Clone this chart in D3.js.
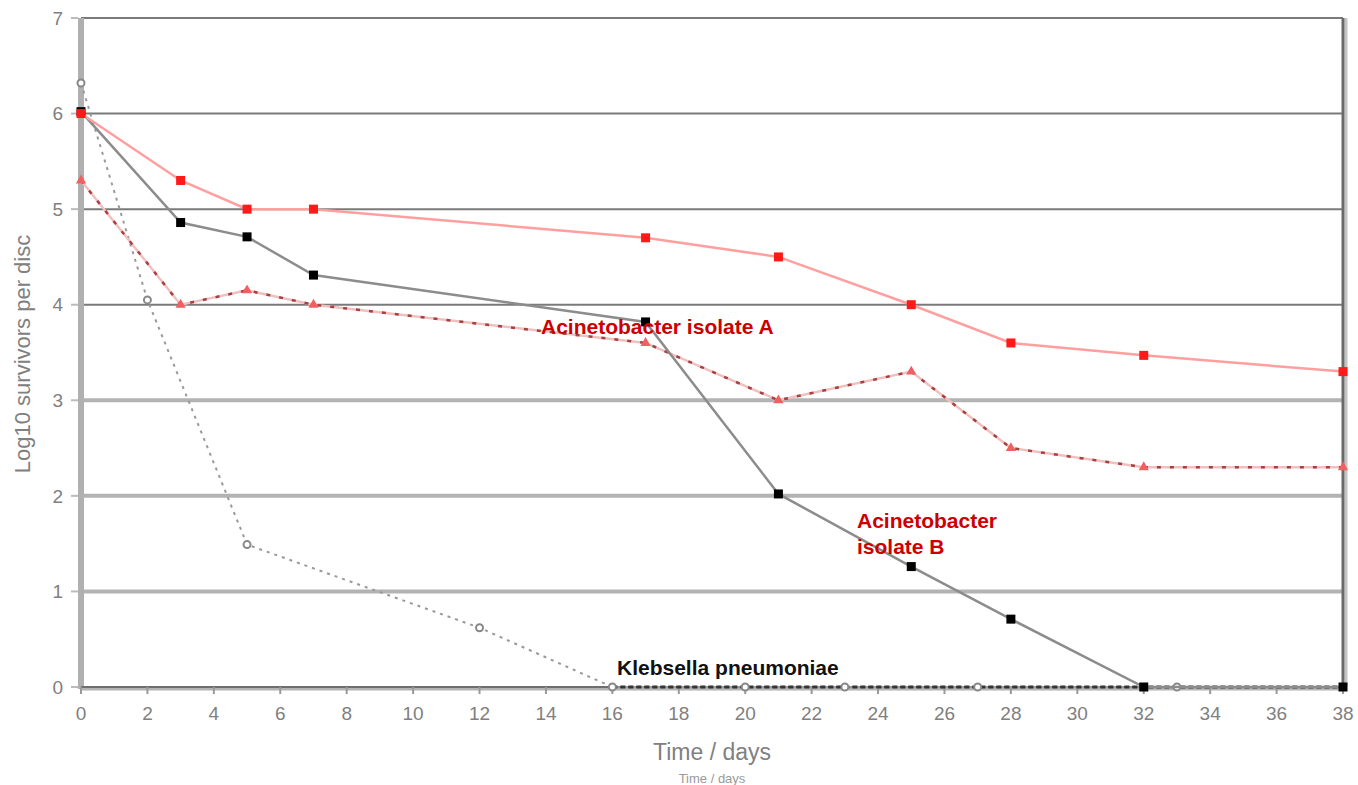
<!DOCTYPE html>
<html>
<head>
<meta charset="utf-8">
<script src="https://cdn.jsdelivr.net/npm/d3@7"></script>
<style>
  body { margin: 0; background: #fff; }
  svg { display: block; }
  text { font-family: "Liberation Sans", Arial, sans-serif; }
  .narrow { font-family: "Liberation Sans Narrow", "Liberation Sans", Arial, sans-serif; }
</style>
</head>
<body>
<svg id="chart" width="1358" height="785"></svg>
<script>
// data
var xTicks = [0, 2, 4, 6, 8, 10, 12, 14, 16, 18, 20, 22, 24, 26, 28, 30, 32, 34, 36, 38];
var yTicks = [0, 1, 2, 3, 4, 5, 6, 7];

var redSolidDays = [0, 3, 5, 7, 17, 21, 25, 28, 32, 38];
var redSolidVals = [6.0, 5.3, 5.0, 5.0, 4.7, 4.5, 4.0, 3.6, 3.47, 3.3];

var redDashDays = [0, 3, 5, 7, 17, 21, 25, 28, 32, 38];
var redDashVals = [5.3, 4.0, 4.15, 4.0, 3.6, 3.0, 3.3, 2.5, 2.3, 2.3];

var blackDays = [0, 3, 5, 7, 17, 21, 25, 28, 32, 38];
var blackVals = [6.02, 4.86, 4.71, 4.31, 3.82, 2.02, 1.26, 0.71, 0, 0];

var klebDays = [0, 2, 5, 12, 16, 20, 23, 27, 33, 38];
var klebVals = [6.32, 4.05, 1.49, 0.62, 0, 0, 0, 0, 0, 0];

var margin = {top: 18, right: 15, bottom: 98, left: 81};

var svg = d3.select("#chart");
var g = svg.append("g").attr("transform", "translate(" + margin.left + "," + margin.top + ")");

var x = d3.scaleLinear().domain([0, 38]).range([0, 1262]);
var y = d3.scaleLinear().domain([0, 7]).range([669, 0]);

// grid lines
g.selectAll(".grid")
  .data(yTicks.filter(function(d){ return d > 0; }))
  .enter().append("line")
  .attr("class", "grid")
  .attr("x1", 0).attr("x2", x(38))
  .attr("y1", function(d){ return y(d); })
  .attr("y2", function(d){ return y(d); })
  .attr("stroke", function(d){ return d >= 4 ? "#7a7a7a" : "#b3b3b3"; })
  .attr("stroke-width", function(d){ return d >= 4 ? 2 : 4; });

// right border
g.append("line")
  .attr("x1", x(38) + 3).attr("x2", x(38) + 3)
  .attr("y1", y(7)).attr("y2", y(0))
  .attr("stroke", "#c4c4c4").attr("stroke-width", 3);
g.append("line")
  .attr("x1", x(38)).attr("x2", x(38))
  .attr("y1", y(7)).attr("y2", y(0))
  .attr("stroke", "#6a6a6a").attr("stroke-width", 3);

// left axis bar
g.append("line")
  .attr("x1", 0).attr("x2", 0)
  .attr("y1", y(7)).attr("y2", y(0) + 2)
  .attr("stroke", "#b0b0b0").attr("stroke-width", 6);

// bottom axis
g.append("line")
  .attr("x1", 0).attr("x2", x(38))
  .attr("y1", y(0) + 2).attr("y2", y(0) + 2)
  .attr("stroke", "#b3b3b3").attr("stroke-width", 3);
g.append("line")
  .attr("x1", 0).attr("x2", x(38))
  .attr("y1", y(0)).attr("y2", y(0))
  .attr("stroke", "#6e6e6e").attr("stroke-width", 2);

// y ticks + labels
g.selectAll(".ytick")
  .data(yTicks)
  .enter().append("line")
  .attr("x1", -10).attr("x2", -3)
  .attr("y1", function(d){ return y(d); })
  .attr("y2", function(d){ return y(d); })
  .attr("stroke", "#bbb").attr("stroke-width", 2);

g.selectAll(".ylab")
  .data(yTicks)
  .enter().append("text")
  .attr("class", "narrow")
  .attr("x", -18)
  .attr("y", function(d){ return y(d); })
  .attr("dy", "0.35em")
  .attr("text-anchor", "end")
  .attr("fill", "#808080")
  .style("font-size", "19px")
  .text(function(d){ return d; });

// x ticks + labels
g.selectAll(".xtick")
  .data(xTicks)
  .enter().append("line")
  .attr("x1", function(d){ return x(d); })
  .attr("x2", function(d){ return x(d); })
  .attr("y1", y(0)).attr("y2", y(0) + 7)
  .attr("stroke", "#999").attr("stroke-width", 2);

g.selectAll(".xlab")
  .data(xTicks)
  .enter().append("text")
  .attr("class", "narrow")
  .attr("x", function(d){ return x(d); })
  .attr("y", y(0) + 33)
  .attr("text-anchor", "middle")
  .attr("fill", "#808080")
  .style("font-size", "19px")
  .text(function(d){ return d; });

// axis titles
g.append("text")
  .attr("class", "narrow")
  .attr("x", x(19))
  .attr("y", y(0) + 73)
  .attr("text-anchor", "middle")
  .attr("fill", "#808080")
  .style("font-size", "23px")
  .text("Time / days");
g.append("text")
  .attr("class", "narrow")
  .attr("x", x(19))
  .attr("y", y(0) + 96)
  .attr("text-anchor", "middle")
  .attr("fill", "#999")
  .style("font-size", "13px")
  .text("Time / days");

svg.append("text")
  .attr("class", "narrow")
  .attr("transform", "translate(30," + 354 + ") rotate(-90)")
  .attr("text-anchor", "middle")
  .attr("fill", "#808080")
  .style("font-size", "22px")
  .text("Log10 survivors per disc");

function zip(xs, ys){
  return xs.map(function(d, i){ return [d, ys[i]]; });
}

var line = d3.line()
  .x(function(d){ return x(d[0]); })
  .y(function(d){ return y(d[1]); });

// Klebsiella dotted
var kleb = zip(klebDays, klebVals);
g.append("path")
  .datum(kleb)
  .attr("fill", "none")
  .attr("stroke", "#999")
  .attr("stroke-width", 2)
  .attr("stroke-dasharray", "3,5")
  .attr("d", line);
g.append("path")
  .datum(kleb.slice(4))
  .attr("fill", "none")
  .attr("stroke", "#333")
  .attr("stroke-width", 3)
  .attr("stroke-dasharray", "5,3")
  .attr("d", line);
g.selectAll(".kdot")
  .data(kleb.slice(0, kleb.length - 1))
  .enter().append("circle")
  .attr("cx", function(d){ return x(d[0]); })
  .attr("cy", function(d){ return y(d[1]); })
  .attr("r", 3.5)
  .attr("fill", "#fff")
  .attr("stroke", "#888")
  .attr("stroke-width", 2);

// red dashed
var redDash = zip(redDashDays, redDashVals);
g.append("path")
  .datum(redDash)
  .attr("fill", "none")
  .attr("stroke", "#f0c0c0")
  .attr("stroke-width", 2.5)
  .attr("d", line);
g.append("path")
  .datum(redDash)
  .attr("fill", "none")
  .attr("stroke", "#a84040")
  .attr("stroke-width", 2.5)
  .attr("stroke-dasharray", "4,9")
  .attr("d", line);
g.selectAll(".tri")
  .data(redDash)
  .enter().append("path")
  .attr("transform", function(d){ return "translate(" + x(d[0]) + "," + y(d[1]) + ")"; })
  .attr("d", d3.symbol().type(d3.symbolTriangle).size(45))
  .attr("fill", "#f06060");

// black series
var black = zip(blackDays, blackVals);
g.append("path")
  .datum(black)
  .attr("fill", "none")
  .attr("stroke", "#8c8c8c")
  .attr("stroke-width", 2.5)
  .attr("d", line);
g.selectAll(".bsq")
  .data(black)
  .enter().append("rect")
  .attr("x", function(d){ return x(d[0]) - 4.5; })
  .attr("y", function(d){ return y(d[1]) - 4.5; })
  .attr("width", 9).attr("height", 9)
  .attr("fill", "#000");

// red solid
var redSolid = zip(redSolidDays, redSolidVals);
g.append("path")
  .datum(redSolid)
  .attr("fill", "none")
  .attr("stroke", "#ff9f9f")
  .attr("stroke-width", 2.5)
  .attr("d", line);
g.selectAll(".rsq")
  .data(redSolid)
  .enter().append("rect")
  .attr("x", function(d){ return x(d[0]) - 4.5; })
  .attr("y", function(d){ return y(d[1]) - 4.5; })
  .attr("width", 9).attr("height", 9)
  .attr("fill", "#ff1a1a");

// annotations
g.append("text")
  .attr("x", 460).attr("y", 316)
  .attr("fill", "#cc0000")
  .style("font-size", "21px").style("font-weight", "bold")
  .text("Acinetobacter isolate A");
g.append("text")
  .attr("x", 776).attr("y", 510)
  .attr("fill", "#cc0000")
  .style("font-size", "21px").style("font-weight", "bold")
  .text("Acinetobacter");
g.append("text")
  .attr("x", 776).attr("y", 536)
  .attr("fill", "#cc0000")
  .style("font-size", "21px").style("font-weight", "bold")
  .text("isolate B");
g.append("text")
  .attr("x", 536).attr("y", 657)
  .attr("fill", "#111")
  .style("font-size", "21px").style("font-weight", "bold")
  .text("Klebsella pneumoniae");
</script>
</body>
</html>
